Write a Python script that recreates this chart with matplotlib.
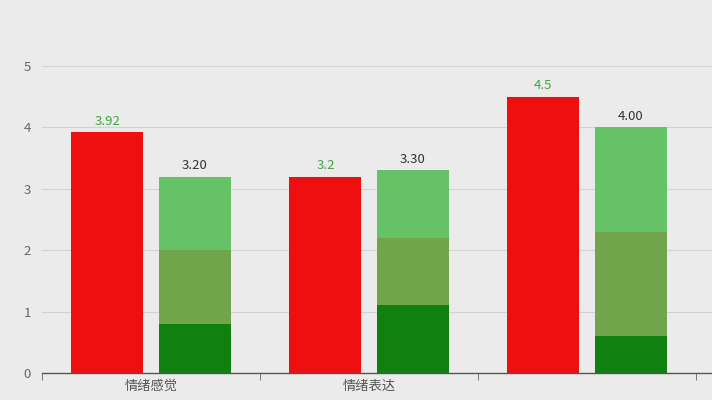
import numpy as np
from matplotlib import pyplot as plt

plt.rcParams['font.family'] = ['Noto Sans CJK SC', 'DejaVu Sans']

categories = ['情绪感觉', '情绪表达', '']
red_values = [3.92, 3.2, 4.5]
red_labels = ['3.92', '3.2', '4.5']
green_dark = [0.8, 1.1, 0.6]
green_mid = [1.2, 1.1, 1.7]
green_light = [1.2, 1.1, 1.7]
green_labels = ['3.20', '3.30', '4.00']
y_ticks = [0, 1, 2, 3, 4, 5]

bg = '#ebebeb'
fig = plt.figure(figsize=(7.12, 4.0), dpi=100, facecolor=bg)
ax = fig.add_axes([42 / 712, 27 / 400, 670 / 712, 307 / 400], facecolor=bg)

x = np.arange(len(categories))
w = 0.33
off = 0.2

ax.bar(x - off, red_values, w, color='#ee1010', zorder=3)
ax.bar(x + off, green_dark, w, color='#108010', zorder=3)
ax.bar(x + off, green_mid, w, bottom=green_dark, color='#70a54c', zorder=3)
bottom2 = np.array(green_dark) + np.array(green_mid)
ax.bar(x + off, green_light, w, bottom=bottom2, color='#66c266', zorder=3)

totals = bottom2 + np.array(green_light)
for i in range(len(categories)):
    ax.text(x[i] - off, red_values[i] + 0.07, red_labels[i], ha='center', va='bottom',
            color='#3aaa3a', fontsize=9.5, fontweight='medium', zorder=4)
    ax.text(x[i] + off, totals[i] + 0.07, green_labels[i], ha='center', va='bottom',
            color='#333333', fontsize=9.5, zorder=4)

ax.set_ylim(0, 5)
ax.set_xlim(-0.5, 2.5 + 16 / 218)
ax.set_yticks(y_ticks)
ax.grid(axis='y', color='#d2d2d2', linewidth=0.8, zorder=0)
ax.tick_params(axis='y', length=0, pad=8, labelcolor='#666666', labelsize=9.5)

ax.set_xticks(x)
ax.set_xticklabels(categories, color='#555555', fontsize=9.5)
ax.set_xticks(np.arange(-0.5, 3.0, 1.0), minor=True)
ax.tick_params(axis='x', which='major', length=0, pad=5)
ax.tick_params(axis='x', which='minor', length=5, color='#666666', direction='out')

for s in ['top', 'right', 'left']:
    ax.spines[s].set_visible(False)
ax.spines['bottom'].set_color('#555555')
ax.spines['bottom'].set_linewidth(1.0)
ax.spines['bottom'].set_zorder(5)

fig.savefig('out.png', dpi=100, facecolor=bg)
